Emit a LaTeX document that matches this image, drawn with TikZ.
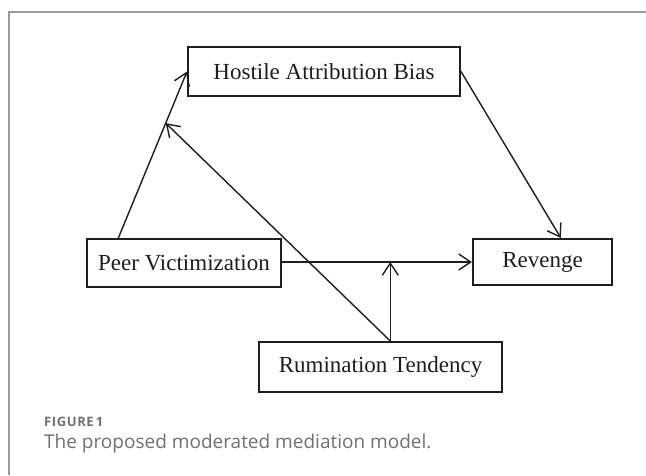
\documentclass[tikz,border=0pt]{standalone}
\usepackage{fontspec}
\setmainfont{Liberation Serif}
\newfontfamily\capfont{Open Sans}
\usepackage{xcolor}
\usetikzlibrary{arrows.meta, positioning, calc}

\definecolor{framegray}{HTML}{9A9A9A}
\definecolor{capgray}{HTML}{707070}
\definecolor{ink}{HTML}{1E1E1E}

\begin{document}
\begin{tikzpicture}[
        x=1pt, y=-1pt,
        >={Straight Barb[length=12pt,width=16pt]},
        box/.style={draw=ink, line width=2pt, inner sep=0pt, text=ink,
            font=\fontsize{23}{26}\selectfont},
        link/.style={->, line width=1.4pt, draw=ink},
    ]
    \useasboundingbox (0,0) rectangle (646,475);
    \draw[framegray, line width=1.5pt] (9,475) -- (9,12) -- (646,12);

    % the four variables
    \node[box, minimum width=272pt, minimum height=49pt] (hostile) at (324,71.5) {Hostile Attribution Bias};
    \node[box, minimum width=194pt, minimum height=48pt] (peer) at (184,263) {Peer Victimization};
    \node[box, minimum width=139pt, minimum height=46pt] (revenge) at (542.5,262) {Revenge};
    \node[box, minimum width=243pt, minimum height=50pt] (rumination) at (380.5,367) {Rumination Tendency};

    % end points on the box sides
    \coordinate (peertop) at ($(peer.north west)!0.165!(peer.north east)$);
    \coordinate (revtop) at ($(revenge.north west)!0.63!(revenge.north east)$);
    \coordinate (rumtop) at ($(rumination.north west)!0.54!(rumination.north east)$);
    \coordinate (midpath) at ($(peertop)!0.69!(hostile.west)$);
    \coordinate (midline) at (rumtop |- revenge.west);

    \draw[link] (peertop) -- (hostile.west);
    \draw[link] (hostile.east) -- (revtop);
    \draw[link] (peer.east |- revenge.west) -- (revenge.west);
    \draw[link] (rumtop) -- (midline);
    \draw[link] (rumtop) -- (midpath);

    % caption
    \node[anchor=base west, inner sep=0pt, text=capgray, font=\capfont\bfseries\fontsize{13}{15}\selectfont] (figlabel) at (44,426) {F\kern0.6pt I\kern0.6pt G\kern0.6pt U\kern0.6pt R\kern0.6pt E\,1};
    \node[anchor=base west, inner sep=0pt, text=capgray, font=\capfont\fontsize{19}{22}\selectfont] (figtitle) at (44,448) {The proposed moderated mediation model.};
\end{tikzpicture}
\end{document}
